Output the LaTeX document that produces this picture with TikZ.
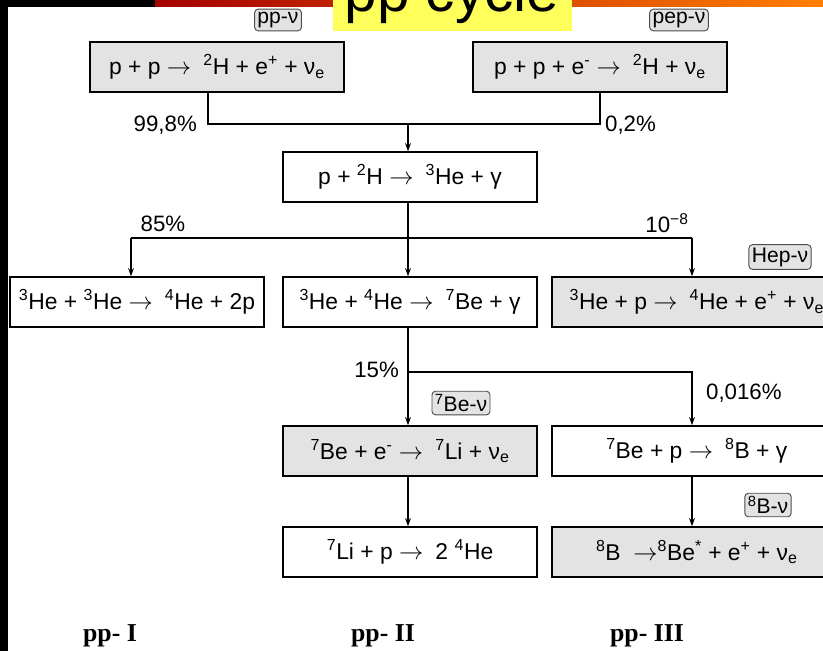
\documentclass[tikz,border=0pt]{standalone}
\usepackage{fontspec}
\setmainfont{Liberation Sans}
\newfontfamily\ppfont{Liberation Serif}
\usetikzlibrary{arrows.meta}
\definecolor{boxgray}{HTML}{E3E3E3}
\definecolor{titleyellow}{HTML}{FFFF5C}
\newcommand\iso[2]{\textsuperscript{#1}#2}
\newcommand\goesto{$\rightarrow$\hspace{0.25em}}
\tikzset{
  reac/.style={draw, line width=1.3pt, fill=white, minimum width=7.62cm, minimum height=1.5cm,
    inner sep=0pt, font=\fontsize{19.5}{22}\selectfont},
  nu/.style={reac, fill=boxgray},
  wide/.style={anchor=west, minimum width=8.7cm},
  tag/.style={draw=black!70, fill=boxgray, rounded corners=3pt, line width=0.8pt,
    inner sep=2.5pt, font=\fontsize{18}{20}\selectfont},
  frac/.style={font=\fontsize{19}{21}\selectfont},
  branch/.style={font=\ppfont\bfseries\fontsize{22}{24}\selectfont},
  link/.style={line width=1pt},
}
\begin{document}
\begin{tikzpicture}[x=0.03cm, y=-0.03cm, >={Stealth[length=7pt,width=5pt]}]
\useasboundingbox (0,0) rectangle (823,651);
\clip (0,0) rectangle (823,651);
% frame
\fill[black] (0,0) rectangle (8,651);
\fill[black] (0,0) rectangle (155,7);
\shade[left color=red!65!black, right color=orange] (155,0) rectangle (823,7);
\fill[titleyellow] (333,0) rectangle (572,31);
\node[anchor=base, font=\fontsize{50}{50}\selectfont] (title) at (452,12) {pp cycle};

% reactions
\node[nu] (b1) at (217,67) {p + p \goesto{} \iso{2}{H} + e\textsuperscript{+} + ν\textsubscript{e}};
\node[nu] (b2) at (600,67) {p + p + e\textsuperscript{-} \goesto{} \iso{2}{H} + ν\textsubscript{e}};
\node[reac] (b3) at (410,177) {p + \iso{2}{H} \goesto{} \iso{3}{He} + γ};
\node[reac] (b4) at (137,302) {\iso{3}{He} + \iso{3}{He} \goesto{} \iso{4}{He} + 2p};
\node[reac] (b5) at (410,302) {\iso{3}{He} + \iso{4}{He} \goesto{} \iso{7}{Be} + γ};
\node[nu, wide] (b6) at (551,302) {\iso{3}{He} + p \goesto{} \iso{4}{He} + e\textsuperscript{+} + ν\textsubscript{e}};
\node[nu] (b7) at (410,451) {\iso{7}{Be} + e\textsuperscript{-} \goesto{} \iso{7}{Li} + ν\textsubscript{e}};
\node[reac, wide] (b8) at (551,451) {\iso{7}{Be} + p \goesto{} \iso{8}{B} + γ};
\node[reac] (b9) at (410,552) {\iso{7}{Li} + p \goesto{} 2 \iso{4}{He}};
\node[nu, wide] (b10) at (551,552) {\iso{8}{B} ~$\rightarrow$\iso{8}{Be}\textsuperscript{*} + e\textsuperscript{+} + ν\textsubscript{e}};

% neutrino tags
\node[tag] (tpp) at (278,20) {pp-ν};
\node[tag] (tpep) at (679,20) {pep-ν};
\node[tag] (thep) at (780,257) {Hep-ν};
\node[tag] (tbe) at (461,403) {\iso{7}{Be}-ν};
\node[tag] (tb) at (768,505) {\iso{8}{B}-ν};

% branches
\coordinate (j1) at (408,124);
\draw[link] ([xshift=-0.27cm]b1.south) |- (j1) -| (b2.south);
\draw[link,->] (j1) -- (j1 |- b3.north);
\node[frac, anchor=east] (l998) at (201,125) {99,8\%};
\node[frac, anchor=west] (l02) at (601,125) {0,2\%};

\coordinate (j2) at (408,238);
\coordinate (c1) at (131,238);
\coordinate (c3) at (692,238);
\draw[link] (j2 |- b3.south) -- (j2);
\draw[link] (c1) -- (c3);
\draw[link,->] (c1) -- (c1 |- b4.north);
\draw[link,->] (j2) -- (j2 |- b5.north);
\draw[link,->] (c3) -- (c3 |- b6.north);
\node[frac] (l85) at (163,224) {85\%};
\node[frac] (l108) at (667,223) {10\textsuperscript{−8}};

\coordinate (j3) at (408,372);
\coordinate (c4) at (692,372);
\draw[link,->] (j3 |- b5.south) -- (j3 |- b7.north);
\draw[link,->] (j3) -- (c4) -- (c4 |- b8.north);
\node[frac, anchor=east] (l15) at (403,370) {15\%};
\node[frac, anchor=west] (l0016) at (702,393) {0,016\%};

\draw[link,->] (j3 |- b7.south) -- (j3 |- b9.north);
\draw[link,->] (c4 |- b8.south) -- (c4 |- b10.north);

% chain names
\node[branch] (pp1) at (110,636) {pp- I};
\node[branch] (pp2) at (383,636) {pp- II};
\node[branch] (pp3) at (647,636) {pp- III};
\end{tikzpicture}
\end{document}
